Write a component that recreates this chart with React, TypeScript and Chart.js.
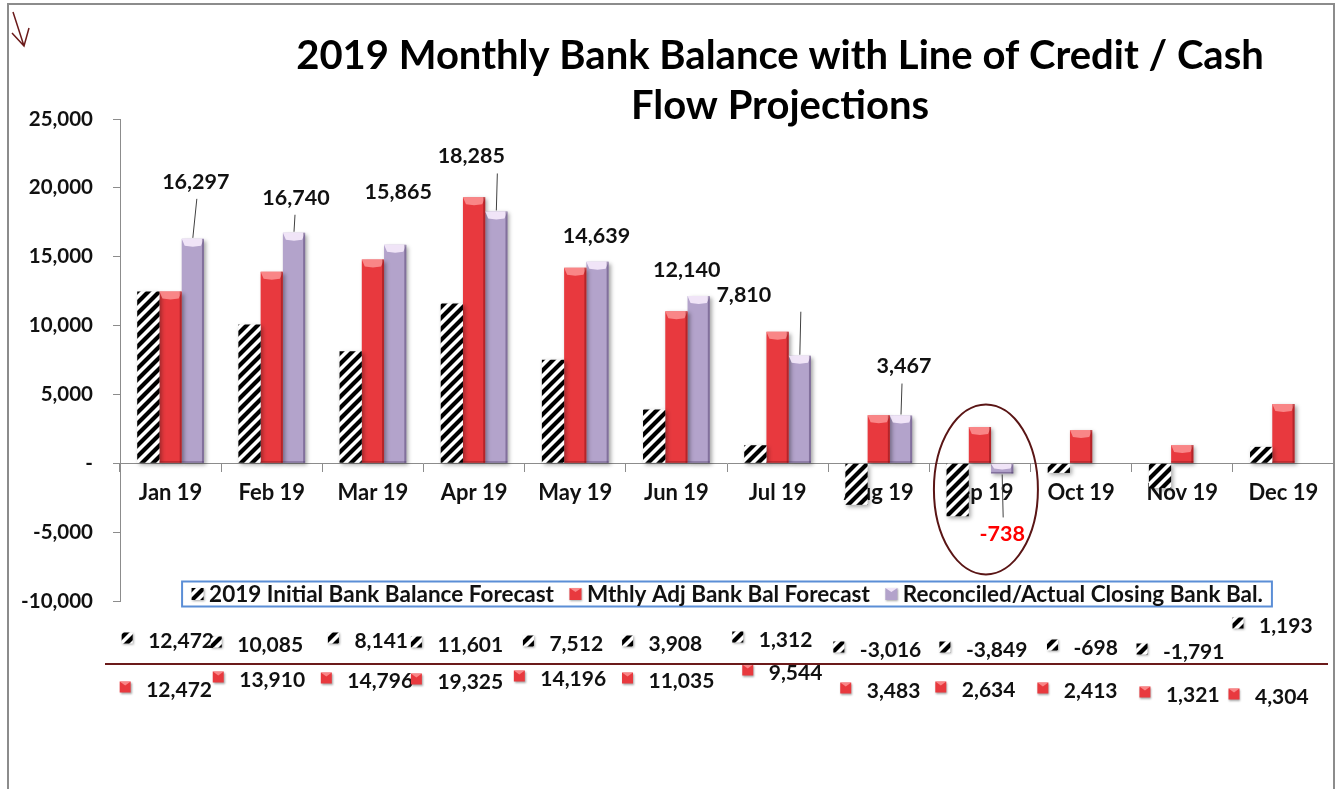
import React, { useEffect, useRef } from 'react';
import { Chart, registerables } from 'chart.js';

Chart.register(...registerables);

// ---------------- data ----------------
const MONTHS = ['Jan 19', 'Feb 19', 'Mar 19', 'Apr 19', 'May 19', 'Jun 19', 'Jul 19', 'Aug 19', 'Sep 19', 'Oct 19', 'Nov 19', 'Dec 19'];
const INITIAL_FORECAST = [12472, 10085, 8141, 11601, 7512, 3908, 1312, -3016, -3849, -698, -1791, 1193];
const MONTHLY_ADJ_FORECAST = [12472, 13910, 14796, 19325, 14196, 11035, 9544, 3483, 2634, 2413, 1321, 4304];
const RECONCILED_ACTUAL = [16297, 16740, 15865, 18285, 14639, 12140, 7810, 3467, -738, null, null, null];
const SERIES_NAMES = ['2019 Initial Bank Balance Forecast', 'Mthly Adj Bank Bal Forecast', 'Reconciled/Actual Closing Bank Bal.'];
const Y_MIN = -10000;
const Y_MAX = 25000;
const Y_STEP = 5000;
const TITLE_LINES = ['2019 Monthly Bank Balance with Line of Credit / Cash', 'Flow Projections'];

// ---------------- layout / style (not data) ----------------
const FONT = 'Lato, "Open Sans", "DejaVu Sans", sans-serif';
const RED = '#E8393E';
const RED_LIGHT = 'rgba(255,160,160,0.75)';
const RED_DARK = 'rgba(120,10,15,0.45)';
const PURPLE = '#B3A3CB';
const PURPLE_LIGHT = 'rgba(250,240,255,0.85)';
const PURPLE_DARK = 'rgba(70,50,100,0.45)';
const AXIS_GRAY = '#8C8C8C';
const DARK_RED = '#6B1A1A';

// data-label offsets for the reconciled series, relative to the bar end
const RECON_LABEL_DX = [3, 2, 3, -25, -1, -12, -56, 3, 0];
const RECON_LABEL_DY = [-57, -35, -53, -55, -26, -26, -61, -49, 61];
const RECON_LEADER = [true, true, false, true, false, false, true, true, true];

// pseudo data-table rows below the chart (text centre offsets from category centre)
const ROW1_DX = [10.5, -1.6, 8.3, -3.8, 1, -1, 8, 11.8, 16.7, 14.6, 11.5, 2.4];
const ROW1_Y = [641, 645, 641, 645, 644, 644, 640, 650, 650, 648, 652, 626];
const ROW2_DX = [8.5, 0.4, 7.3, -3.8, -2, 5, 18, 14.8, 8.7, 9.6, 10.5, -1.6];
const ROW2_Y = [690, 680, 681, 682, 679, 681, 673, 691, 690, 691, 695, 697];

const fmt = (v: number) => v.toLocaleString('en-US');

function makeHatch(): CanvasPattern | string {
  const s = 11;
  const c = document.createElement('canvas');
  c.width = s;
  c.height = s;
  const g = c.getContext('2d');
  if (!g) return '#333';
  g.fillStyle = '#fff';
  g.fillRect(0, 0, s, s);
  g.strokeStyle = '#000';
  g.lineWidth = 4.2;
  g.beginPath();
  g.moveTo(-1, s + 1);
  g.lineTo(s + 1, -1);
  g.moveTo(-s / 2 - 1, s / 2 + 1);
  g.lineTo(s / 2 + 1, -s / 2 - 1);
  g.moveTo(s / 2 - 1, (3 * s) / 2 + 1);
  g.lineTo((3 * s) / 2 + 1, s / 2 - 1);
  g.stroke();
  const p = g.createPattern(c, 'repeat');
  return p || '#333';
}

function drawBevel(ctx: CanvasRenderingContext2D, left: number, right: number, top: number, bottom: number, light: string, dark: string) {
  const w = right - left;
  const h = bottom - top;
  if (h < 1) return;
  const d = Math.min(7, h / 2);
  ctx.save();
  ctx.fillStyle = light;
  ctx.beginPath();
  ctx.moveTo(left, top);
  ctx.lineTo(right, top);
  ctx.lineTo(right - 3, top + d);
  ctx.lineTo(left + w / 2, top + d + 1);
  ctx.lineTo(left + 3, top + d);
  ctx.closePath();
  ctx.fill();
  ctx.fillStyle = dark;
  ctx.fillRect(right - 2, top, 2, h);
  ctx.fillRect(left, bottom - 1.5, w, 1.5);
  ctx.restore();
}

function drawIcon(ctx: CanvasRenderingContext2D, cx: number, cy: number, fill: CanvasPattern | string, light?: string, size = 11) {
  const s = size;
  ctx.save();
  ctx.shadowColor = 'rgba(0,0,0,0.35)';
  ctx.shadowBlur = 2;
  ctx.shadowOffsetX = 1;
  ctx.shadowOffsetY = 1;
  ctx.fillStyle = fill as any;
  ctx.fillRect(cx - s / 2, cy - s / 2, s, s);
  ctx.restore();
  if (light) {
    ctx.save();
    ctx.fillStyle = light;
    ctx.beginPath();
    ctx.moveTo(cx - s / 2, cy - s / 2);
    ctx.lineTo(cx + s / 2, cy - s / 2);
    ctx.lineTo(cx, cy - s / 2 + 4);
    ctx.closePath();
    ctx.fill();
    ctx.restore();
  }
}

export default function App() {
  const ref = useRef<HTMLCanvasElement | null>(null);

  useEffect(() => {
    const canvas = ref.current;
    if (!canvas) return;
    const hatch = makeHatch();

    const shadowPlugin = {
      id: 'barShadow',
      beforeDatasetsDraw(chart: any) {
        const ctx = chart.ctx;
        ctx.save();
        ctx.shadowColor = 'rgba(0,0,0,0.35)';
        ctx.shadowBlur = 4;
        ctx.shadowOffsetX = 2;
        ctx.shadowOffsetY = 2;
      },
      afterDatasetsDraw(chart: any) {
        const ctx = chart.ctx;
        ctx.restore();
        const styles = [null, [RED_LIGHT, RED_DARK], [PURPLE_LIGHT, PURPLE_DARK]];
        for (let d = 1; d <= 2; d++) {
          const meta = chart.getDatasetMeta(d);
          meta.data.forEach((el: any, i: number) => {
            const v = chart.data.datasets[d].data[i];
            if (v === null || v === undefined) return;
            const p = el.getProps(['x', 'y', 'base', 'width'], true);
            const left = p.x - p.width / 2;
            const right = p.x + p.width / 2;
            const top = Math.min(p.y, p.base);
            const bottom = Math.max(p.y, p.base);
            const st = styles[d] as string[];
            drawBevel(ctx, left, right, top, bottom, st[0], st[1]);
          });
        }
      },
    };

    const decorPlugin = {
      id: 'decor',
      afterDraw(chart: any) {
        const ctx: CanvasRenderingContext2D = chart.ctx;
        const xs = chart.scales.x;
        const ys = chart.scales.y;
        const area = chart.chartArea;

        // outer frame
        ctx.save();
        ctx.strokeStyle = AXIS_GRAY;
        ctx.lineWidth = 2;
        ctx.beginPath();
        ctx.moveTo(8, 800);
        ctx.lineTo(8, 4);
        ctx.lineTo(1334, 4);
        ctx.lineTo(1334, 800);
        ctx.stroke();
        ctx.restore();

        // arrow (top-left)
        ctx.save();
        ctx.strokeStyle = DARK_RED;
        ctx.lineWidth = 1.5;
        ctx.beginPath();
        ctx.moveTo(13, 12);
        ctx.lineTo(24, 46);
        ctx.moveTo(12, 33);
        ctx.lineTo(24, 46);
        ctx.lineTo(29, 28);
        ctx.stroke();
        ctx.restore();

        // title
        ctx.save();
        ctx.fillStyle = '#000';
        ctx.font = `bold 40px ${FONT}`;
        ctx.textAlign = 'center';
        ctx.textBaseline = 'middle';
        ctx.fillText(TITLE_LINES[0], 780, 56);
        ctx.fillText(TITLE_LINES[1], 780, 106);
        ctx.restore();

        // reconciled data labels
        const meta = chart.getDatasetMeta(2);
        ctx.save();
        ctx.font = `bold 21.5px ${FONT}`;
        ctx.textAlign = 'center';
        ctx.textBaseline = 'middle';
        RECONCILED_ACTUAL.forEach((v, i) => {
          if (v === null) return;
          const el = meta.data[i];
          const p = el.getProps(['x', 'y'], true);
          const lx = p.x + RECON_LABEL_DX[i];
          const ly = p.y + RECON_LABEL_DY[i];
          if (RECON_LEADER[i]) {
            const dir = RECON_LABEL_DY[i] < 0 ? 1 : -1;
            ctx.strokeStyle = '#404040';
            ctx.lineWidth = 1;
            ctx.beginPath();
            ctx.moveTo(p.x + (i === 0 ? 4 : 1), ly + dir * 17);
            ctx.lineTo(p.x, p.y + (dir > 0 ? -1 : 1));
            ctx.stroke();
          }
          ctx.fillStyle = v < 0 ? '#FF0000' : '#111';
          ctx.fillText(fmt(v), lx, ly);
        });
        ctx.restore();

        // legend (inside chart area, at its bottom)
        ctx.save();
        ctx.font = `bold 22.5px ${FONT}`;
        const fills: (CanvasPattern | string)[] = [hatch, RED, PURPLE];
        const lights = [undefined, RED_LIGHT, PURPLE_LIGHT];
        const iconW = 13;
        const gapIT = 5;
        const gapItems = 15;
        const widths = chart.data.datasets.map((ds: any) => ctx.measureText(ds.label).width);
        const total = widths.reduce((a: number, w: number) => a + iconW + gapIT + w, 0) + gapItems * (widths.length - 1);
        const cx = (area.left + area.right) / 2;
        const cy = area.bottom - 7;
        const bx0 = cx - total / 2 - 9;
        const bx1 = cx + total / 2 + 9;
        ctx.fillStyle = '#fff';
        ctx.fillRect(bx0, cy - 12.5, bx1 - bx0, 25);
        ctx.strokeStyle = '#5B8ED6';
        ctx.lineWidth = 2;
        ctx.strokeRect(bx0, cy - 12.5, bx1 - bx0, 25);
        let x = cx - total / 2;
        ctx.textAlign = 'left';
        ctx.textBaseline = 'middle';
        chart.data.datasets.forEach((ds: any, k: number) => {
          drawIcon(ctx, x + iconW / 2, cy, fills[k], lights[k], 12);
          x += iconW + gapIT;
          ctx.fillStyle = '#111';
          ctx.fillText(ds.label, x, cy + 1);
          x += widths[k] + gapItems;
        });
        ctx.restore();

        // ellipse highlighting September
        ctx.save();
        ctx.strokeStyle = '#5A1515';
        ctx.lineWidth = 2;
        ctx.beginPath();
        ctx.ellipse(xs.getPixelForValue(8) + 6, ys.getPixelForValue(-1900), 52, 85, 0, 0, Math.PI * 2);
        ctx.stroke();
        ctx.restore();

        // pseudo data table rows
        ctx.save();
        ctx.font = `bold 21px ${FONT}`;
        ctx.textBaseline = 'middle';
        ctx.textAlign = 'center';
        const rows: [number[], number[], number[], CanvasPattern | string, string | undefined][] = [
          [INITIAL_FORECAST, ROW1_DX, ROW1_Y, hatch, undefined],
          [MONTHLY_ADJ_FORECAST, ROW2_DX, ROW2_Y, RED, RED_LIGHT],
        ];
        rows.forEach(([vals, dxs, yy, fill, light]) => {
          vals.forEach((v, i) => {
            const tx = xs.getPixelForValue(i) + dxs[i];
            const txt = fmt(v);
            const w = ctx.measureText(txt).width;
            drawIcon(ctx, tx - w / 2 - 21, yy[i] - 3, fill, light);
            ctx.fillStyle = '#111';
            ctx.fillText(txt, tx, yy[i]);
          });
        });
        ctx.restore();

        // dark red separator
        ctx.save();
        ctx.strokeStyle = DARK_RED;
        ctx.lineWidth = 2;
        ctx.beginPath();
        ctx.moveTo(105, 664);
        ctx.lineTo(1328, 664);
        ctx.stroke();
        ctx.restore();
      },
    };

    const chart = new Chart(canvas, {
      type: 'bar',
      data: {
        labels: MONTHS,
        datasets: [
          { label: SERIES_NAMES[0], data: INITIAL_FORECAST, backgroundColor: hatch as any, borderWidth: 0 },
          { label: SERIES_NAMES[1], data: MONTHLY_ADJ_FORECAST, backgroundColor: RED, borderWidth: 0 },
          { label: SERIES_NAMES[2], data: RECONCILED_ACTUAL as any, backgroundColor: PURPLE, borderWidth: 0 },
        ],
      },
      options: {
        responsive: false,
        animation: false,
        devicePixelRatio: 1,
        layout: { padding: { left: 0, top: 119, right: 10, bottom: 188 } },
        datasets: { bar: { categoryPercentage: 0.66, barPercentage: 1 } },
        plugins: {
          legend: { display: false },
          title: { display: false },
          tooltip: { enabled: false },
        },
        scales: {
          x: {
            position: { y: 0 } as any,
            grid: { display: true, drawOnChartArea: false, offset: true, tickLength: 8, color: AXIS_GRAY },
            border: { color: AXIS_GRAY, width: 1 },
            ticks: { font: { family: FONT, size: 22, weight: 'bold' }, color: '#111', padding: 8, maxRotation: 0, autoSkip: false },
          },
          y: {
            min: Y_MIN,
            max: Y_MAX,
            grid: { display: true, drawOnChartArea: false, tickLength: 7, color: AXIS_GRAY },
            border: { color: AXIS_GRAY, width: 1 },
            ticks: {
              stepSize: Y_STEP,
              font: { family: FONT, size: 20.5, weight: 'bold' },
              color: '#111',
              padding: 20,
              callback: (v: any) => (Number(v) === 0 ? '-' : fmt(Number(v))),
            },
            afterFit: (s: any) => {
              s.width = 120;
            },
          },
        },
      },
      plugins: [shadowPlugin, decorPlugin],
    });

    return () => chart.destroy();
  }, []);

  return (
    <div style={{ position: 'fixed', left: 0, top: 0, width: 1344, height: 789, background: '#fff' }}>
      <canvas ref={ref} width={1344} height={789} style={{ display: 'block' }} />
    </div>
  );
}
